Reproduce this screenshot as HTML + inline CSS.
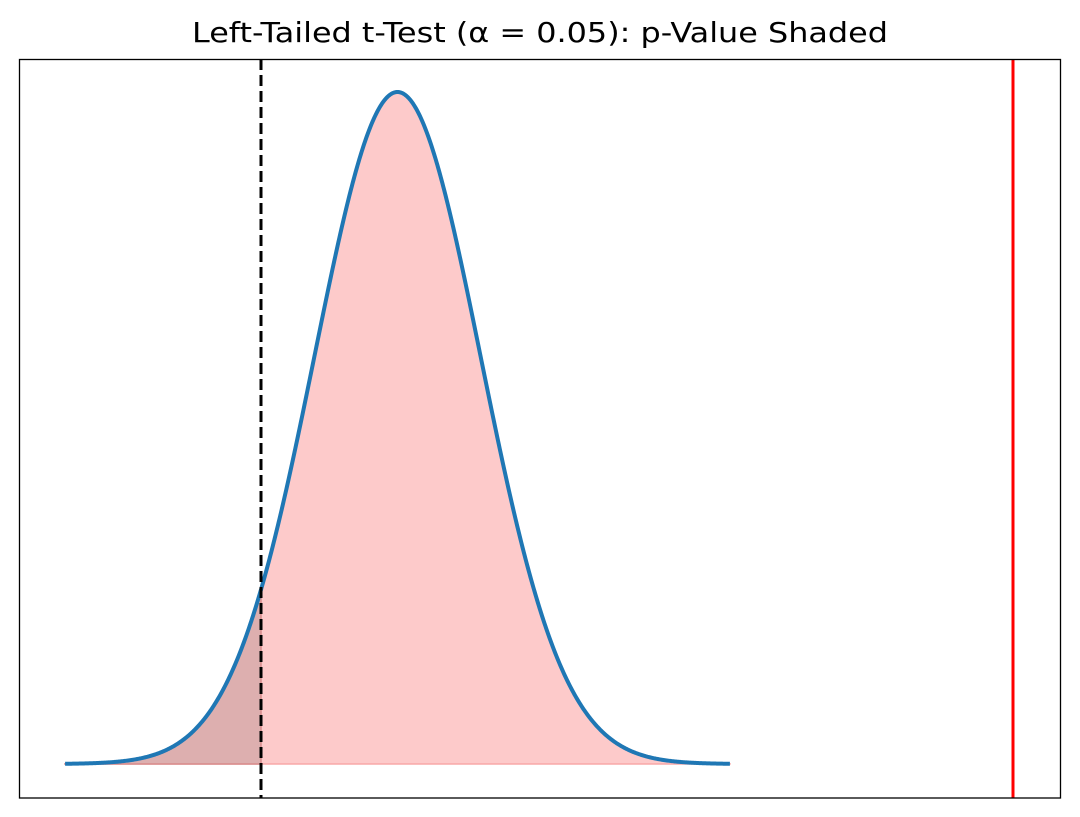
<!DOCTYPE html>
<html><head><meta charset="utf-8"><style>
html,body{margin:0;padding:0;background:#fff;}
svg{display:block;}
</style></head><body>
<svg id="s" width="1080" height="817" xmlns="http://www.w3.org/2000/svg">
<rect x="0" y="0" width="1080" height="817" fill="#fff"/>
<text x="540" y="42" text-anchor="middle" font-family="'DejaVu Sans', 'Liberation Sans', sans-serif" font-size="28" textLength="696" lengthAdjust="spacingAndGlyphs" fill="#000">Left-Tailed t-Test (α = 0.05): p-Value Shaded</text>
<path id="full" fill="#fdcaca" stroke="#f8a8a8" stroke-width="1.5"/>
<path id="tail" fill="#ddafaf" stroke="#d88c8c" stroke-width="1.5"/>
<path id="curve" fill="none" stroke="#1f77b4" stroke-width="4" stroke-linejoin="round"/>
<line x1="261" y1="59" x2="261" y2="798" stroke="#000" stroke-width="3" stroke-dasharray="11,5"/>
<line x1="1013" y1="59" x2="1013" y2="798" stroke="#ff0000" stroke-width="3"/>
<rect x="19.5" y="59.5" width="1041" height="738.5" fill="none" stroke="#000" stroke-width="1.3"/>
</svg>
<script>
(function(){
var cx=397.5, s=83.1, base=764, h=672;
function X(t){return cx+t*s;}
function Y(t){return base-h*Math.exp(-t*t/2);}
var c="",f="M"+X(-4)+" "+base,tl="M"+X(-4)+" "+base;
var tc=(261-cx)/s;
for(var i=0;i<=800;i++){var t=-4+8*i/800;var p=X(t).toFixed(2)+" "+Y(t).toFixed(2);
c+=(i?"L":"M")+p;f+="L"+p;if(t<=tc)tl+="L"+p;}
tl+="L"+X(tc)+" "+Y(tc).toFixed(2)+"L"+X(tc)+" "+base+"Z";
f+="L"+X(4)+" "+base+"Z";
document.getElementById("curve").setAttribute("d",c);
document.getElementById("full").setAttribute("d",f);
document.getElementById("tail").setAttribute("d",tl);
})();
</script>
</body></html>
